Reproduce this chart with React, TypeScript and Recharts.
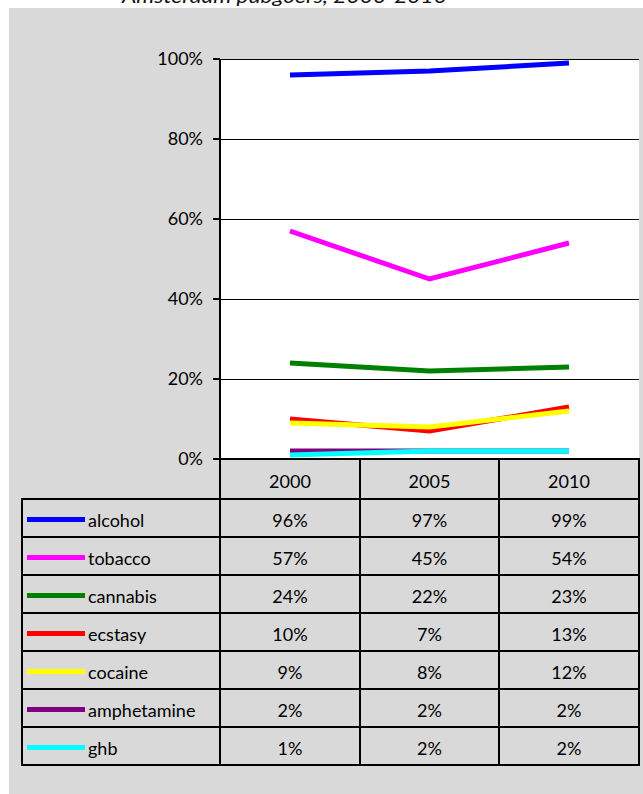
import React from 'react';
import { LineChart, Line, XAxis, YAxis, CartesianGrid } from 'recharts';

const years = ['2000', '2005', '2010'];
const alcohol = [96, 97, 99];
const tobacco = [57, 45, 54];
const cannabis = [24, 22, 23];
const ecstasy = [10, 7, 13];
const cocaine = [9, 8, 12];
const amphetamine = [2, 2, 2];
const ghb = [1, 2, 2];
const yTicks = [0, 20, 40, 60, 80, 100];

const seriesList = [
  { key: 'alcohol', values: alcohol, color: '#0000FF' },
  { key: 'tobacco', values: tobacco, color: '#FF00FF' },
  { key: 'cannabis', values: cannabis, color: '#008000' },
  { key: 'ecstasy', values: ecstasy, color: '#FF0000' },
  { key: 'cocaine', values: cocaine, color: '#FFFF00' },
  { key: 'amphetamine', values: amphetamine, color: '#800080' },
  { key: 'ghb', values: ghb, color: '#00FFFF' },
];

const data = years.map((y, i) => {
  const row: Record<string, string | number> = { year: y };
  seriesList.forEach((s) => {
    row[s.key] = s.values[i];
  });
  return row;
});

const FONT = 'Lato, "Open Sans", sans-serif';
const FS = 18;
const colX = [21, 219, 359, 498, 638];
const headerTop = 458;
const rowTop = 498;
const rowH = 38;

const cellBase: React.CSSProperties = {
  position: 'absolute',
  boxSizing: 'border-box',
  border: '2px solid #000',
  display: 'flex',
  alignItems: 'center',
  justifyContent: 'center',
  fontSize: FS,
  color: '#000',
  fontFamily: FONT,
  paddingTop: 3,
};

export default function App() {
  return (
    <div style={{ position: 'absolute', left: 0, top: 0, width: 643, height: 794, overflow: 'hidden', fontFamily: FONT }}>
      <div style={{ position: 'absolute', left: 9, top: 8, width: 640, height: 790, background: '#D9D9D9' }} />
      <svg style={{ position: 'absolute', left: 0, top: 0 }} width={643} height={10}>
        <text x={122} y={3} fontSize={20} fontStyle="italic" fontFamily={FONT} fill="#111" textLength={325} lengthAdjust="spacingAndGlyphs">
          Amsterdam pubgoers, 2000-2010
        </text>
      </svg>
      <div style={{ position: 'absolute', left: 0, top: 0 }}>
        <LineChart width={643} height={470} data={data} margin={{ top: 59, right: 4, left: 0, bottom: 11 }}>
          <CartesianGrid horizontal vertical={false} stroke="#000" strokeWidth={1} fill="#FFFFFF" shapeRendering="crispEdges" />
          <XAxis dataKey="year" hide padding={{ left: 70, right: 70 }} />
          <YAxis
            domain={[0, 100]}
            ticks={yTicks}
            width={220}
            tickFormatter={(v: number) => `${v}%`}
            axisLine={{ stroke: '#000', strokeWidth: 2 }}
            tickLine={{ stroke: '#000', strokeWidth: 2 }}
            tickSize={7}
            tickMargin={10}
            tick={{ fill: '#000', fontSize: FS, fontFamily: FONT }}
            interval={0}
          />
          <YAxis yAxisId="r" orientation="right" width={0} domain={[0, 100]} tick={false} tickLine={false} axisLine={{ stroke: '#000', strokeWidth: 2 }} />
          {seriesList.map((s) => (
            <Line
              key={s.key}
              dataKey={s.key}
              stroke={s.color}
              strokeWidth={5}
              dot={false}
              activeDot={false}
              type="linear"
              isAnimationActive={false}
            />
          ))}
        </LineChart>
      </div>
      {years.map((y, i) => (
        <div
          key={y}
          style={{ ...cellBase, left: colX[i + 1], top: headerTop, width: colX[i + 2] - colX[i + 1] + 2, height: rowTop - headerTop + 2 }}
        >
          {y}
        </div>
      ))}
      {seriesList.map((s, r) => (
        <React.Fragment key={s.key}>
          <div
            style={{
              ...cellBase,
              left: colX[0],
              top: rowTop + r * rowH,
              width: colX[1] - colX[0] + 2,
              height: rowH + 2,
              justifyContent: 'flex-start',
            }}
          >
            <span style={{ display: 'inline-block', width: 58, height: 5, background: s.color, marginLeft: 4, marginRight: 3 }} />
            <span>{s.key}</span>
          </div>
          {s.values.map((v, i) => (
            <div
              key={i}
              style={{ ...cellBase, left: colX[i + 1], top: rowTop + r * rowH, width: colX[i + 2] - colX[i + 1] + 2, height: rowH + 2 }}
            >
              {`${v}%`}
            </div>
          ))}
        </React.Fragment>
      ))}
    </div>
  );
}
